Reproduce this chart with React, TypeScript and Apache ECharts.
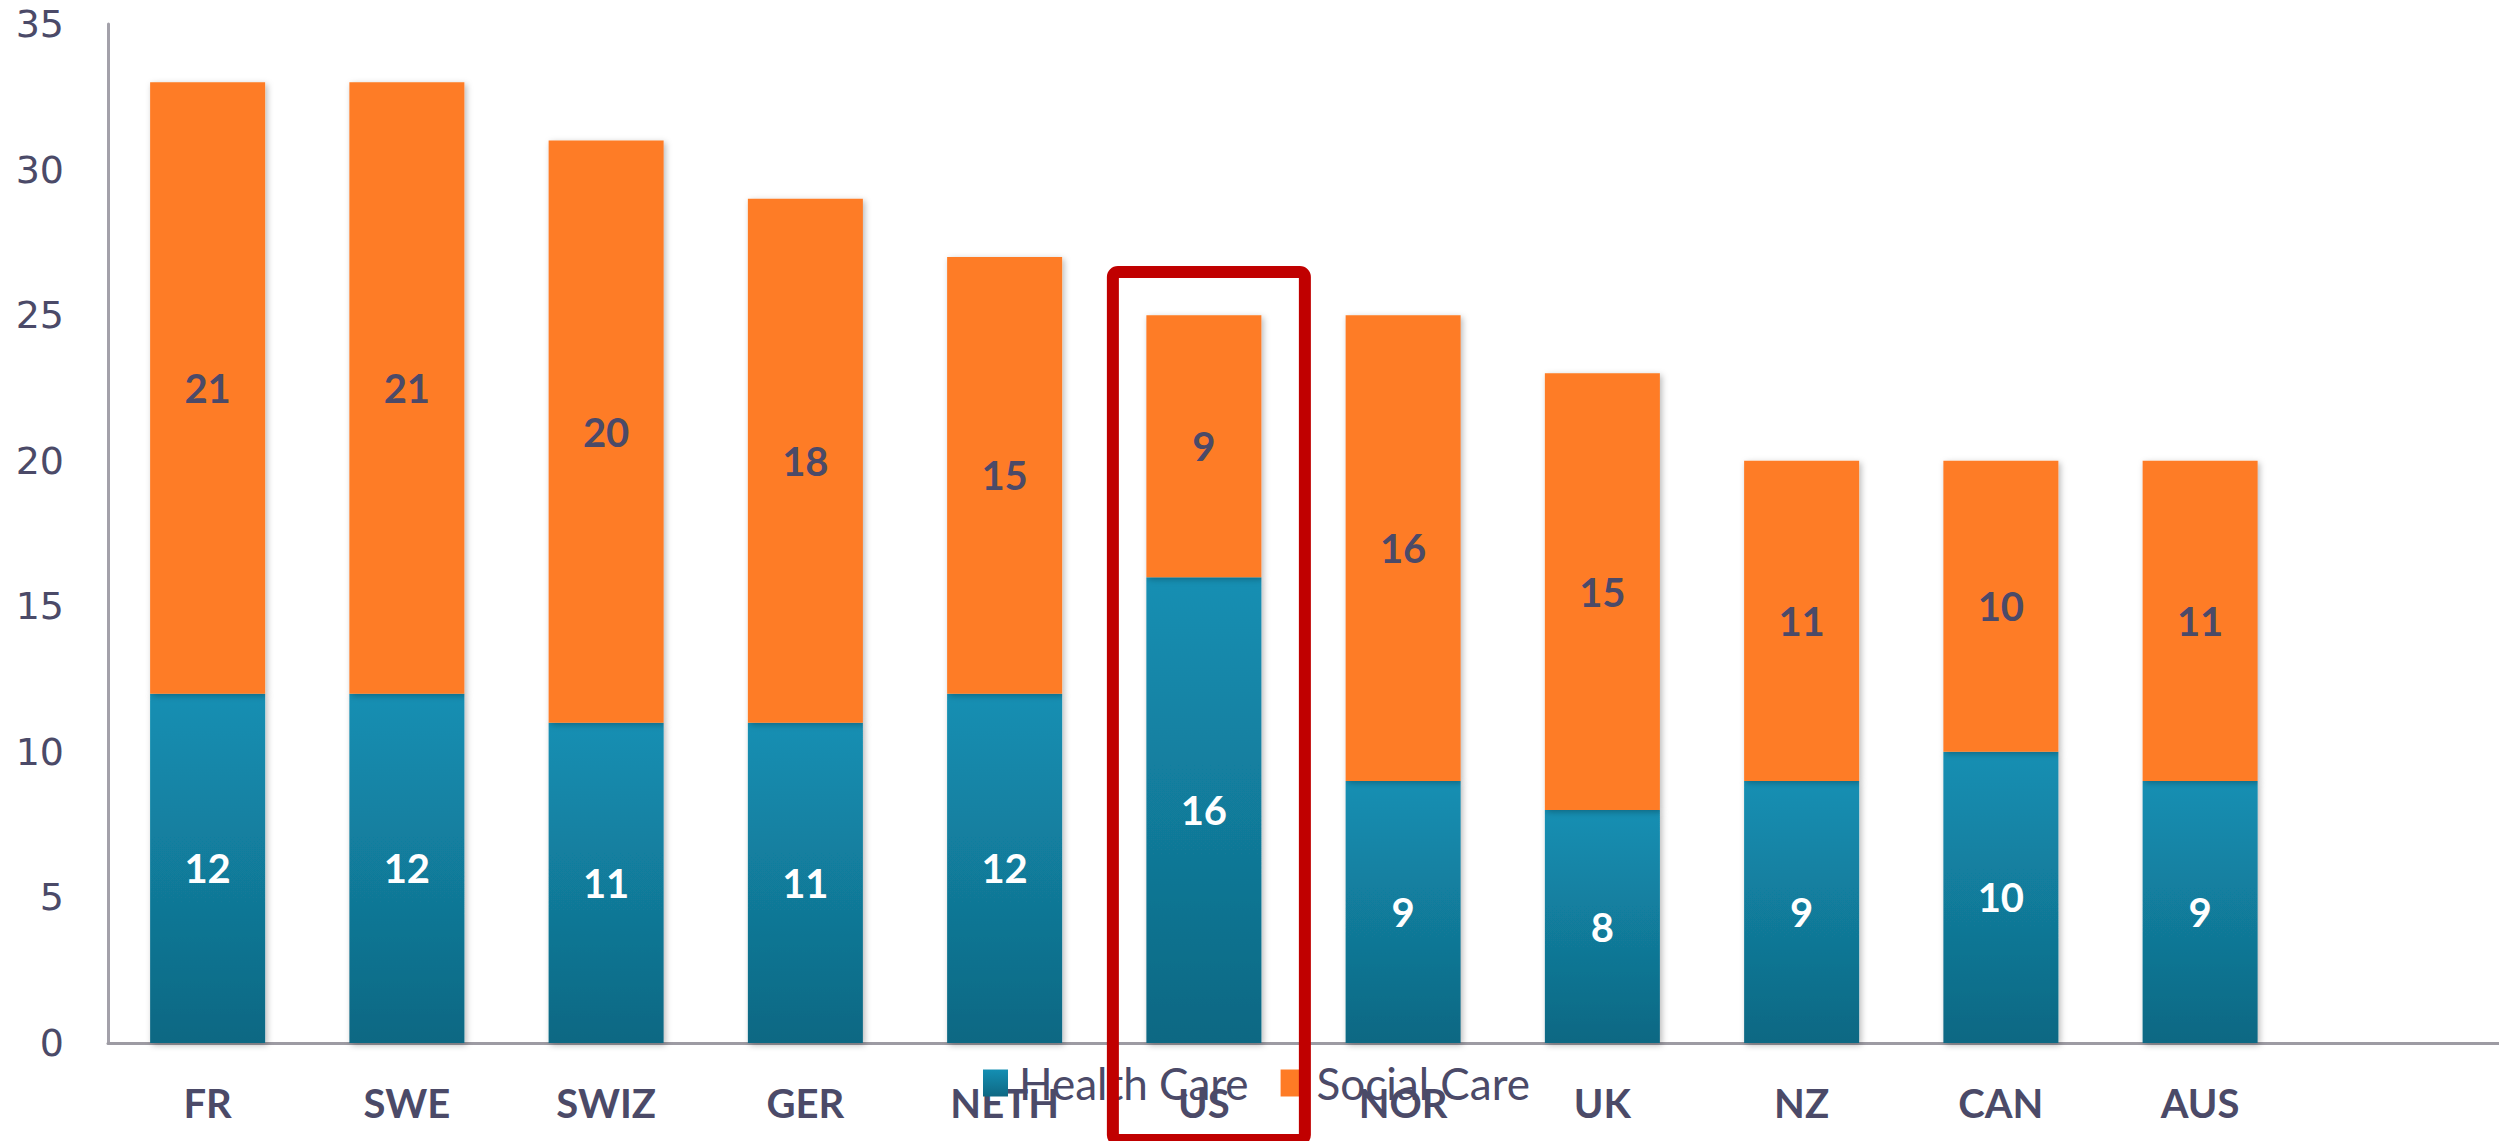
import React, { useEffect, useRef } from "react";
import * as echarts from "echarts";

const categories = ["FR", "SWE", "SWIZ", "GER", "NETH", "US", "NOR", "UK", "NZ", "CAN", "AUS", ""];
const healthCare = [12, 12, 11, 11, 12, 16, 9, 8, 9, 10, 9, null];
const socialCare = [21, 21, 20, 18, 15, 9, 16, 15, 11, 10, 11, null];
const seriesNames = ["Health Care", "Social Care"];
const highlighted = "US";

const W = 2499;
const H = 1141;
const TEXT = "#4b4a68";

export default function App() {
  const ref = useRef<HTMLDivElement>(null);
  useEffect(() => {
    document.body.style.margin = "0";
    const chart = echarts.init(ref.current!, null, { renderer: "svg", width: W, height: H });
    const shadow = {
      shadowBlur: 6,
      shadowColor: "rgba(0,0,0,0.28)",
      shadowOffsetX: 2,
      shadowOffsetY: 2,
    };
    chart.setOption({
      animation: false,
      backgroundColor: "#ffffff",
      grid: { left: 108, right: 0, top: 24, bottom: 98, containLabel: false },
      legend: {
        left: 978,
        top: 1056,
        icon: "rect",
        itemWidth: 25,
        itemHeight: 27,
        itemGap: 32,
        textStyle: { fontFamily: "Lato", fontSize: 44, color: TEXT, padding: [0, 0, 0, 6] },
        data: seriesNames,
        z: 20,
      },
      xAxis: {
        type: "category",
        data: categories,
        axisLine: { lineStyle: { color: "#9d9ba3", width: 3 } },
        axisTick: { show: false },
        axisLabel: {
          fontFamily: "Lato",
          fontWeight: "bold",
          fontSize: 40,
          color: TEXT,
          margin: 40,
          interval: 0,
        },
      },
      yAxis: {
        type: "value",
        min: 0,
        max: 35,
        interval: 5,
        axisLine: { show: true, lineStyle: { color: "#a3a1aa", width: 3 } },
        axisTick: { show: false },
        splitLine: { show: false },
        axisLabel: { fontFamily: "DejaVu Sans", fontSize: 38, color: TEXT, margin: 44 },
      },
      series: [
        {
          name: seriesNames[0],
          type: "bar",
          stack: "total",
          data: healthCare,
          barWidth: 115,
          itemStyle: {
            color: new echarts.graphic.LinearGradient(0, 0, 0, 1, [
              { offset: 0, color: "#148fb3" },
              { offset: 1, color: "#0f6883" },
            ]),
            ...shadow,
          },
          label: {
            show: true,
            position: "inside",
            fontFamily: "Lato",
            fontWeight: "bold",
            fontSize: 40,
            color: "#ffffff",
          },
        },
        {
          name: seriesNames[1],
          type: "bar",
          stack: "total",
          data: socialCare,
          barWidth: 115,
          itemStyle: { color: "#fe7b25", ...shadow },
          label: {
            show: true,
            position: "inside",
            fontFamily: "Lato",
            fontWeight: "bold",
            fontSize: 40,
            color: TEXT,
          },
        },
      ],
    });
    const cx = chart.convertToPixel({ xAxisIndex: 0 }, highlighted) as number;
    chart.setOption({
      graphic: [
        {
          type: "rect",
          z: 100,
          shape: { x: cx - 91, y: 272, width: 192, height: 868, r: 5 },
          style: { fill: "none", stroke: "#c00000", lineWidth: 12 },
        },
      ],
    });
    return () => chart.dispose();
  }, []);
  return <div ref={ref} style={{ position: "absolute", left: 0, top: 0, width: W, height: H }} />;
}
